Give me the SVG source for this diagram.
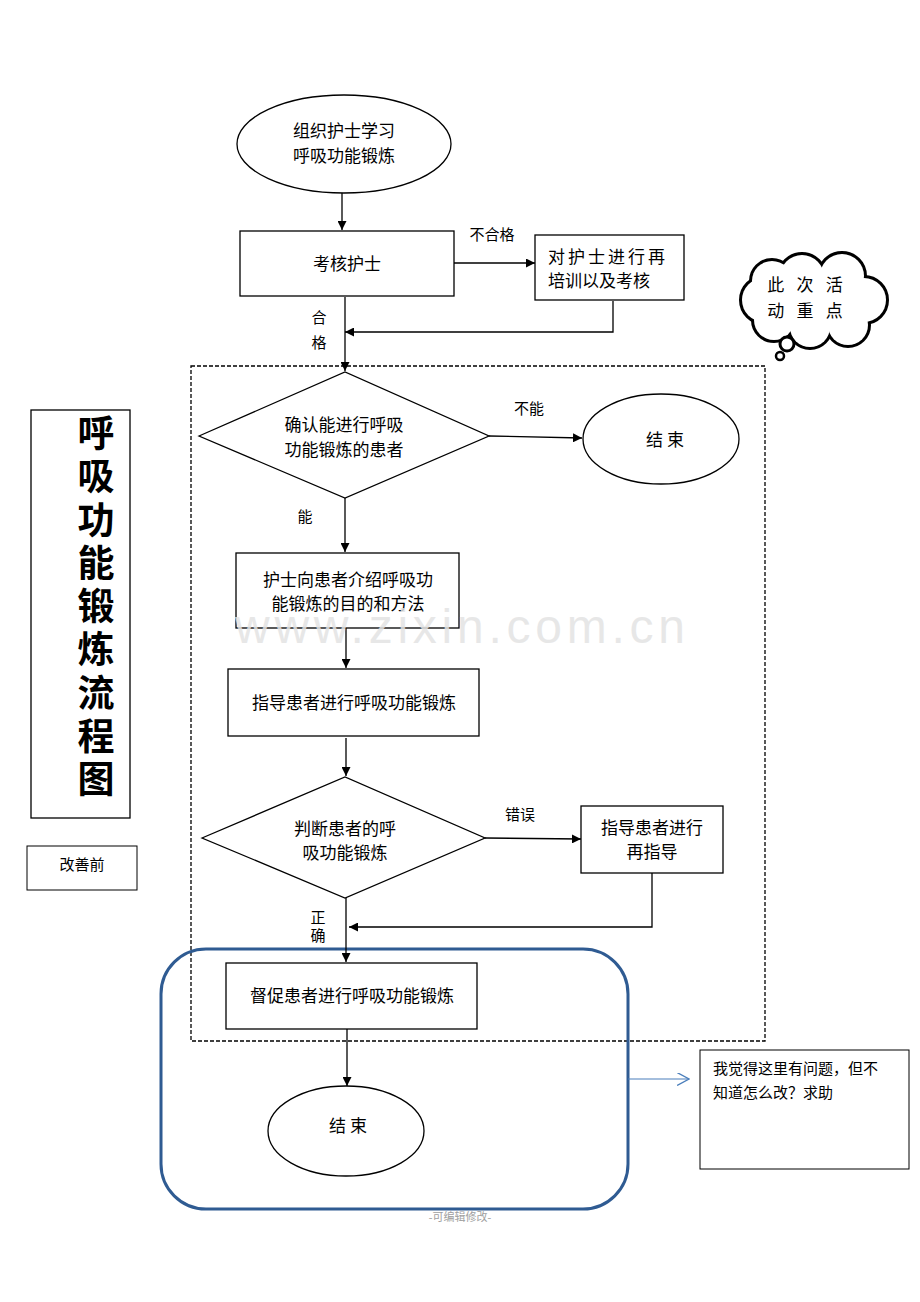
<svg xmlns="http://www.w3.org/2000/svg" width="920" height="1302" viewBox="0 0 920 1302">
<style>
text{font-family:"Liberation Serif","Noto Sans CJK SC",serif;fill:#000;}
.t{font-size:17px;text-anchor:middle;}
.l{font-size:15px;text-anchor:middle;}
.s{fill:#fff;stroke:#000;stroke-width:1.3;}
.c{fill:none;stroke:#000;stroke-width:1.3;}
</style>
<defs>
<marker id="a" viewBox="0 0 10 10" refX="10" refY="5" markerWidth="9" markerHeight="9" markerUnits="userSpaceOnUse" orient="auto"><path d="M0,0L10,5L0,10z" fill="#000"/></marker>
<marker id="b" viewBox="0 0 12 12" refX="11" refY="6" markerWidth="13" markerHeight="13" markerUnits="userSpaceOnUse" orient="auto"><path d="M0,0L11,6L0,12" fill="none" stroke="#4a7ebb" stroke-width="1.2"/></marker>
</defs>
<rect width="920" height="1302" fill="#fff"/>
<g id="frame"><rect x="191" y="366" width="574" height="675" fill="none" stroke="#000" stroke-width="1.3" stroke-dasharray="4,2"/></g>
<g id="highlight"><rect x="161" y="949" width="467" height="260" rx="45" fill="none" stroke="#2f5b92" stroke-width="3"/></g>
<g id="connectors">
<line class="c" x1="342" y1="193" x2="342" y2="230" marker-end="url(#a)"/>
<line class="c" x1="454" y1="263" x2="535" y2="263" marker-end="url(#a)"/>
<polyline class="c" points="613,301 613,332 345,332" marker-end="url(#a)"/>
<line class="c" x1="345" y1="297" x2="345" y2="371" marker-end="url(#a)"/>
<line class="c" x1="489" y1="436" x2="582" y2="438" marker-end="url(#a)"/>
<line class="c" x1="345" y1="498" x2="345" y2="552" marker-end="url(#a)"/>
<line class="c" x1="346" y1="628" x2="346" y2="668" marker-end="url(#a)"/>
<line class="c" x1="346" y1="738" x2="346" y2="776" marker-end="url(#a)"/>
<line class="c" x1="485" y1="838" x2="581" y2="839" marker-end="url(#a)"/>
<polyline class="c" points="652,873 652,927 349,927" marker-end="url(#a)"/>
<line class="c" x1="346" y1="898" x2="346" y2="962" marker-end="url(#a)"/>
<line class="c" x1="347" y1="1029" x2="347" y2="1086" marker-end="url(#a)"/>
<line x1="628" y1="1079" x2="689" y2="1079" stroke="#4a7ebb" stroke-width="1.2" marker-end="url(#b)"/>
<text class="l" x="492" y="240">不合格</text>
<text class="l" x="319" y="323">合</text>
<text class="l" x="319" y="348">格</text>
<text class="l" x="529" y="414">不能</text>
<text class="l" x="305" y="522">能</text>
<text class="l" x="520" y="820">错误</text>
<text class="l" x="318" y="923">正</text>
<text class="l" x="318" y="941">确</text>
</g>
<g id="start"><ellipse class="s" cx="344" cy="144" rx="107" ry="49"/><text class="t" x="344" y="137">组织护士学习</text><text class="t" x="344" y="162">呼吸功能锻炼</text></g>
<g id="assess"><rect class="s" x="240" y="231" width="214" height="65"/><text class="t" x="347" y="270">考核护士</text></g>
<g id="retrain"><rect class="s" x="535" y="235" width="149" height="65"/><text x="548" y="263" style="font-size:17px" letter-spacing="3">对护士进行再</text><text x="548" y="287" style="font-size:17px">培训以及考核</text></g>
<g id="confirm"><polygon class="s" points="199,436 345,372 489,436 345,498"/><text class="t" x="344" y="431">确认能进行呼吸</text><text class="t" x="344" y="456">功能锻炼的患者</text></g>
<g id="end1"><ellipse class="s" cx="661" cy="439" rx="78" ry="45"/><text class="t" x="665" y="446">结 束</text></g>
<g id="intro"><rect class="s" x="236" y="553" width="223" height="75"/><text class="t" x="348" y="586">护士向患者介绍呼吸功</text><text class="t" x="348" y="610">能锻炼的目的和方法</text></g>
<g id="guide"><rect class="s" x="228" y="669" width="251" height="67"/><text class="t" x="354" y="709">指导患者进行呼吸功能锻炼</text></g>
<g id="judge"><polygon class="s" points="202,838 345,777 485,838 345,898"/><text class="t" x="345" y="835">判断患者的呼</text><text class="t" x="345" y="859">吸功能锻炼</text></g>
<g id="reguide"><rect class="s" x="581" y="806" width="142" height="67"/><text class="t" x="652" y="834">指导患者进行</text><text class="t" x="652" y="858">再指导</text></g>
<g id="supervise"><rect class="s" x="226" y="963" width="251" height="66"/><text class="t" x="352" y="1002">督促患者进行呼吸功能锻炼</text></g>
<g id="end2"><ellipse class="s" cx="346" cy="1131" rx="78" ry="45"/><text class="t" x="348" y="1132">结 束</text></g>
<g id="note"><rect x="700" y="1050" width="209" height="119" fill="#fff" stroke="#000" stroke-width="1"/><text x="713" y="1074" style="font-size:15px">我觉得这里有问题，但不</text><text x="713" y="1098" style="font-size:15px">知道怎么改？求助</text></g>
<g id="title"><rect x="31" y="410" width="99" height="408" fill="#fff" stroke="#000" stroke-width="1.3"/>
<g style="font-size:37px;text-anchor:middle;font-weight:bold">
<text x="96" y="447">呼</text><text x="96" y="490">吸</text><text x="96" y="534">功</text><text x="96" y="577">能</text><text x="96" y="620">锻</text><text x="96" y="663">炼</text><text x="96" y="707">流</text><text x="96" y="750">程</text><text x="96" y="793">图</text></g></g>
<g id="before"><rect x="27" y="846" width="110" height="44" fill="#fff" stroke="#000" stroke-width="1"/><text x="82" y="870" style="font-size:15px;text-anchor:middle">改善前</text></g>
<g id="cloud">
<g fill="#fff" stroke="#000" stroke-width="6">
<circle cx="764" cy="300" r="22"/><circle cx="772" cy="281" r="20"/><circle cx="802" cy="277" r="22"/><circle cx="842" cy="276" r="22"/><circle cx="864" cy="300" r="22"/><circle cx="848" cy="325" r="20"/><circle cx="810" cy="327" r="20"/><circle cx="774" cy="320" r="20"/></g>
<g fill="#fff"><circle cx="764" cy="300" r="22"/><circle cx="772" cy="281" r="20"/><circle cx="802" cy="277" r="22"/><circle cx="842" cy="276" r="22"/><circle cx="864" cy="300" r="22"/><circle cx="848" cy="325" r="20"/><circle cx="810" cy="327" r="20"/><circle cx="774" cy="320" r="20"/><circle cx="812" cy="301" r="32"/></g>
<circle cx="787" cy="344" r="7" fill="#fff" stroke="#000" stroke-width="3"/><circle cx="780" cy="356" r="4" fill="#fff" stroke="#000" stroke-width="2.5"/>
<text x="807" y="291" style="font-size:17px;text-anchor:middle" letter-spacing="4">此 次 活</text><text x="807" y="317" style="font-size:17px;text-anchor:middle" letter-spacing="4">动 重 点</text></g>
<text x="460" y="643" style="font-family:'Liberation Sans',sans-serif;font-size:48px;fill:#e3e3e3;fill-opacity:0.85;text-anchor:middle" textLength="450">www.zixin.com.cn</text>
<text x="460" y="1221" style="font-size:11px;fill:#a0a0a0;text-anchor:middle">-可编辑修改-</text>
</svg>
